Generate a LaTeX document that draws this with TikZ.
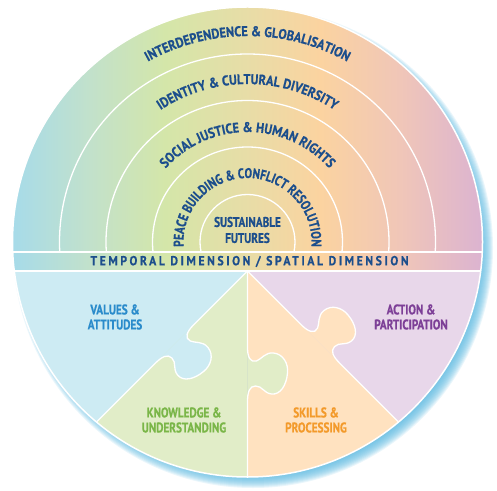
\documentclass[tikz,border=0pt]{standalone}
\usepackage{fontspec}
\usetikzlibrary{decorations.text}
\newfontfamily\labfont{PT Sans}[FakeStretch=0.8,FakeBold=0.6]
\newfontfamily\arcfamily{PT Sans}[FakeStretch=0.88,FakeBold=0.6]
\newfontfamily\bandfont{PT Sans}[FakeStretch=0.9,LetterSpace=20,FakeBold=0.6]
\definecolor{gA}{HTML}{A7DBE9}
\definecolor{gB}{HTML}{C2E1CB}
\definecolor{gC}{HTML}{D4E6A9}
\definecolor{gD}{HTML}{E7DDA7}
\definecolor{gE}{HTML}{FBD3A0}
\definecolor{gF}{HTML}{F0C6B8}
\definecolor{gG}{HTML}{D8B0D5}
\definecolor{valblue}{HTML}{CDEBF3}
\definecolor{knowgreen}{HTML}{E1EDC8}
\definecolor{skillorange}{HTML}{FFE2C0}
\definecolor{actpurple}{HTML}{E8D7EA}
\definecolor{arcblue}{HTML}{1C4E8C}
\definecolor{valtext}{HTML}{2A8BCB}
\definecolor{knowtext}{HTML}{7AB648}
\definecolor{skilltext}{HTML}{F39A2B}
\definecolor{acttext}{HTML}{7D3F97}
\definecolor{shadowblue}{HTML}{5DB9E0}
\newcommand\arcfont{\arcfamily\bfseries\fontsize{14}{14}\selectfont}
\newcommand\peacefont{\labfont\bfseries\fontsize{14}{14}\selectfont}
\tikzset{
  lab/.style={align=center, font=\labfont\bfseries\fontsize{14}{15}\selectfont},
  wline/.style={white, line width=1.3pt},
  arctext/.style={decorate, decoration={text along path, text align=center, text color=arcblue}}
}
\begin{document}
\begin{tikzpicture}[x=1pt,y=1pt]
\useasboundingbox (0,0) rectangle (497,490);
\coordinate (C) at (247.5,248);
\coordinate (A) at (247.5,219);
% drop shadow
\foreach \k in {0,...,14} \fill[shadowblue, opacity=0.13] (253,242) circle ({226+\k});
\begin{scope}
\clip (C) circle (235);
% rainbow gradient (upper part and band)
\shade[left color=gA, right color=gA] (0,219) rectangle (13,490);
\shade[left color=gA, right color=gB] (13,219) rectangle (90,490);
\shade[left color=gB, right color=gC] (90,219) rectangle (165,490);
\shade[left color=gC, right color=gD] (165,219) rectangle (245,490);
\shade[left color=gD, right color=gE] (245,219) rectangle (320,490);
\shade[left color=gE, right color=gF] (320,219) rectangle (400,490);
\shade[left color=gF, right color=gG] (400,219) rectangle (497,490);
% lower pieces
\fill[valblue] (-30,219.2) -- (A) -- (-30,-58.5) -- cycle;
\fill[knowgreen] (A) -- (-30,-58.5) -- (247.5,-58.5) -- cycle;
\fill[skillorange] (A) -- (247.5,-58.5) -- (525,-58.5) -- cycle;
\fill[actpurple] (A) -- (525,-58.5) -- (525,219.2) -- cycle;
% puzzle tabs
\foreach \sx/\sy/\nx/\ny/\col in {-0.7071/-0.7071/0.7071/-0.7071/valblue, 0/-1/1/0/knowgreen, 0.7071/-0.7071/0.7071/0.7071/skillorange}{
  \begin{scope}[shift={(A)}, x={(\sx pt,\sy pt)}, y={(\nx pt,\ny pt)}]
    \fill[\col] (77,0) .. controls (86,0) and (92,3) .. (90,9) .. controls (88,14) and (81,18) .. (82,26) .. controls (83,36) and (93,41) .. (102,40) .. controls (114,39) and (124,33) .. (123,24) .. controls (122,16) and (115,15) .. (115,8) .. controls (115,2) and (121,0) .. (131,0) -- cycle;
  \end{scope}
}
\foreach \sx/\sy/\nx/\ny in {-0.7071/-0.7071/0.7071/-0.7071, 0/-1/1/0, 0.7071/-0.7071/0.7071/0.7071}{
  \begin{scope}[shift={(A)}, x={(\sx pt,\sy pt)}, y={(\nx pt,\ny pt)}]
    \draw[wline] (0,0) -- (77,0) .. controls (86,0) and (92,3) .. (90,9) .. controls (88,14) and (81,18) .. (82,26) .. controls (83,36) and (93,41) .. (102,40) .. controls (114,39) and (124,33) .. (123,24) .. controls (122,16) and (115,15) .. (115,8) .. controls (115,2) and (121,0) .. (131,0) -- (240,0);
  \end{scope}
}
% band lines
\draw[wline] (0,238) -- (497,238);
\draw[wline] (0,219) -- (497,219);
% arcs
\begin{scope}
\clip (0,238) rectangle (497,490);
\foreach \r in {47.5,95,141.5,188} \draw[wline] (C) circle (\r);
\end{scope}
\end{scope}
\draw[white, line width=1.5pt] (C) circle (235);
% arc texts
\path[arctext, decoration={text={|\arcfont|INTERDEPENDENCE {\&} GLOBALISATION}}] (41.5,248) arc[start angle=180, end angle=0, radius=206];
\path[arctext, decoration={text={|\arcfont|IDENTITY {\&} CULTURAL DIVERSITY}}] (89.5,248) arc[start angle=180, end angle=0, radius=158];
\path[arctext, decoration={text={|\arcfont|SOCIAL JUSTICE {\&} HUMAN RIGHTS}}] (137.5,248) arc[start angle=180, end angle=0, radius=110];
\path[arctext, decoration={text={|\peacefont|PEACE BUILDING {\&} CONFLICT RESOLUTION}}] (187.36,226.1) arc[start angle=200, end angle=-20, radius=64];
% centre and band texts
\node[lab, text=arcblue, font=\labfont\bfseries\fontsize{14}{16}\selectfont] (sf) at (247.5,260) {SUSTAINABLE\\FUTURES};
\node[text=arcblue, font=\bandfont\bfseries\fontsize{13}{13}\selectfont] (band) at (249.5,228.5) {TEMPORAL DIMENSION / SPATIAL DIMENSION};
% piece labels
\node[lab, text=valtext] (va) at (115,173) {VALUES \&\\ATTITUDES};
\node[lab, text=knowtext] (ku) at (184,70) {KNOWLEDGE \&\\UNDERSTANDING};
\node[lab, text=skilltext] (sp) at (316,70) {SKILLS \&\\PROCESSING};
\node[lab, text=acttext] (ap) at (411,173) {ACTION \&\\PARTICIPATION};
\end{tikzpicture}
\end{document}
